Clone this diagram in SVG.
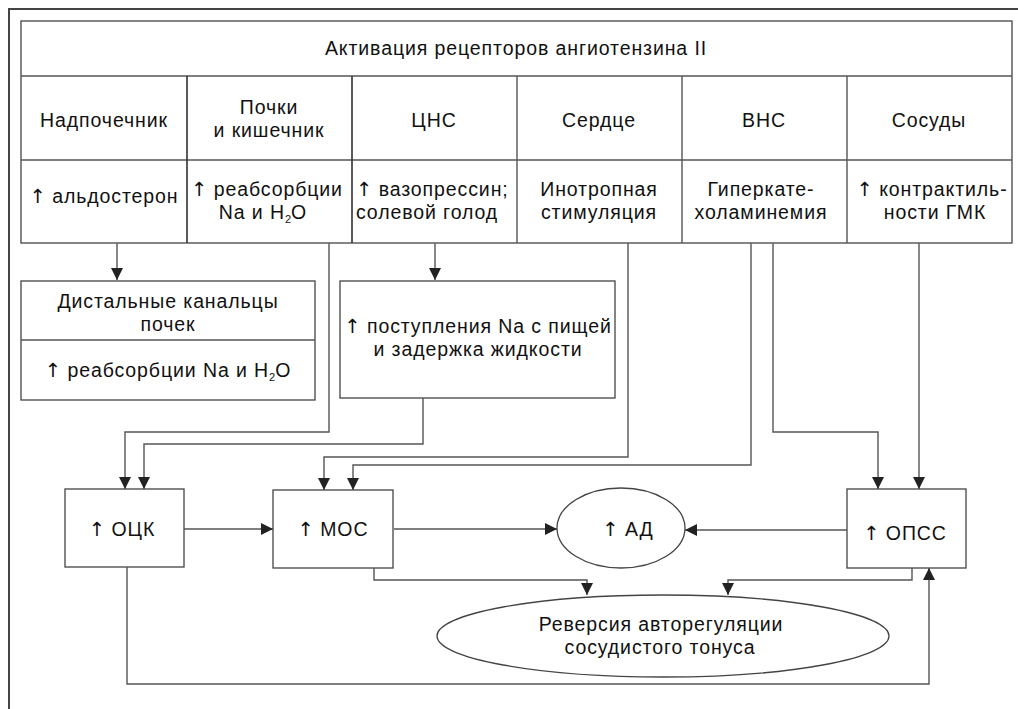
<svg xmlns="http://www.w3.org/2000/svg" width="1018" height="709" viewBox="0 0 1018 709">
<style>
text{font-family:"Liberation Sans","Noto Sans",Arial,sans-serif;font-size:19.5px;letter-spacing:0.9px;fill:#111;text-anchor:middle}
.up{font-family:"DejaVu Sans",sans-serif;letter-spacing:0}
.box{fill:#fff;stroke:#444;stroke-width:1.3}
.ln{fill:none;stroke:#555;stroke-width:1.4}
.sep{fill:none;stroke:#333;stroke-width:1.6}
.sub{font-size:11px;letter-spacing:0}
</style>
<defs>
<marker id="ah" markerWidth="12" markerHeight="12" viewBox="0 0 12 12" refX="12" refY="6" orient="auto" markerUnits="userSpaceOnUse">
<path d="M0,0 L12,6 L0,12 Z" fill="#222"/>
</marker>
</defs>
<rect width="1018" height="709" fill="#fff"/>
<g id="frame">
<path d="M9,709 V9 H1018" fill="none" stroke="#444" stroke-width="2"/>
</g>
<g id="table">
<rect class="box" x="21" y="21" width="991" height="222"/>
<path class="ln" d="M21,76 H1012 M21,160 H1012 M517,76 V243 M682,76 V243 M847,76 V243"/>
<path class="sep" d="M187,76 V243 M352,76 V243"/>
<text x="516" y="55">Активация рецепторов ангиотензина II</text>
<text x="104" y="127">Надпочечник</text>
<text x="269" y="114">Почки</text>
<text x="269" y="137">и кишечник</text>
<text x="434" y="127">ЦНС</text>
<text x="599" y="127">Сердце</text>
<text x="764" y="127">ВНС</text>
<text x="929" y="127">Сосуды</text>
<text x="104" y="203"><tspan class="up">↑</tspan> альдостерон</text>
<text x="267" y="196"><tspan class="up">↑</tspan> реабсорбции</text>
<text x="263" y="219">Na и H<tspan class="sub" dy="4">2</tspan><tspan dy="-4">O</tspan></text>
<text x="356" y="196" style="text-anchor:start"><tspan class="up">↑</tspan> вазопрессин;</text>
<text x="356" y="219" style="text-anchor:start">солевой голод</text>
<text x="599" y="196">Инотропная</text>
<text x="599" y="219">стимуляция</text>
<text x="761" y="196">Гиперкате-</text>
<text x="761" y="219">холаминемия</text>
<text x="932" y="196"><tspan class="up">↑</tspan> контрактиль-</text>
<text x="935" y="219">ности ГМК</text>
</g>
<g id="distal">
<rect class="box" x="21" y="281" width="294" height="119"/>
<path class="ln" d="M21,340 H315"/>
<text x="168" y="308">Дистальные канальцы</text>
<text x="168" y="331">почек</text>
<text x="168" y="377"><tspan class="up">↑</tspan> реабсорбции Na и H<tspan class="sub" dy="4">2</tspan><tspan dy="-4">O</tspan></text>
</g>
<g id="intake">
<rect class="box" x="340" y="281" width="275" height="117"/>
<text x="478" y="333"><tspan class="up">↑</tspan> поступления Na с пищей</text>
<text x="478" y="356">и задержка жидкости</text>
</g>
<g id="ock">
<rect class="box" x="65" y="489" width="119" height="78"/>
<text x="122" y="536"><tspan class="up">↑</tspan> ОЦК</text>
</g>
<g id="mos">
<rect class="box" x="273" y="490" width="120" height="78"/>
<text x="333" y="536"><tspan class="up">↑</tspan> МОС</text>
</g>
<g id="ad">
<ellipse class="box" cx="621" cy="528" rx="64" ry="40"/>
<text x="628" y="536"><tspan class="up">↑</tspan> АД</text>
</g>
<g id="opss">
<rect class="box" x="847" y="489" width="119" height="79"/>
<text x="905" y="540"><tspan class="up">↑</tspan> ОПСС</text>
</g>
<g id="reversal">
<ellipse class="box" cx="663" cy="636" rx="226" ry="41"/>
<text x="661" y="631">Реверсия авторегуляции</text>
<text x="660" y="654">сосудистого тонуса</text>
</g>
<g id="connectors">
<path class="ln" d="M117,243 V280" marker-end="url(#ah)"/>
<path class="ln" d="M435,243 V280" marker-end="url(#ah)"/>
<path class="ln" d="M329,243 V432 H125 V489" marker-end="url(#ah)"/>
<path class="ln" d="M423,398 V444 H144 V489" marker-end="url(#ah)"/>
<path class="ln" d="M628,243 V457 H324 V490" marker-end="url(#ah)"/>
<path class="ln" d="M751,243 V465 H353 V490" marker-end="url(#ah)"/>
<path class="ln" d="M773,243 V432 H878 V489" marker-end="url(#ah)"/>
<path class="ln" d="M919,243 V489" marker-end="url(#ah)"/>
<path class="ln" d="M184,529 H273" marker-end="url(#ah)"/>
<path class="ln" d="M394,529 H557" marker-end="url(#ah)"/>
<path class="ln" d="M847,530 H685" marker-end="url(#ah)"/>
<path class="ln" d="M374,568 V580 H587 V595" marker-end="url(#ah)"/>
<path class="ln" d="M912,568 V580 H728 V595" marker-end="url(#ah)"/>
<path class="ln" d="M127,567 V684 H929 V568" marker-end="url(#ah)"/>
</g>
</svg>
